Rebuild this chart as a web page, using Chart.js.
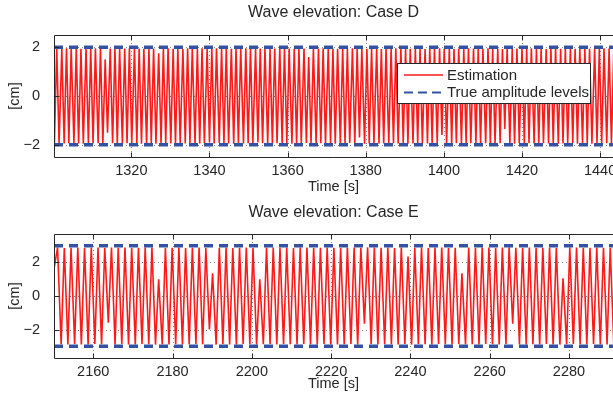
<!DOCTYPE html>
<html>
<head>
<meta charset="utf-8">
<script src="https://cdn.jsdelivr.net/npm/chart.js@4.4.1/dist/chart.umd.min.js"></script>
<style>
  html, body { margin: 0; padding: 0; background: #fff; overflow: hidden; }
  canvas { display: block; }
</style>
</head>
<body>
<canvas id="caseD" width="613" height="200"></canvas>
<canvas id="caseE" width="613" height="199"></canvas>
<script>
// ---- Case D: turning points of the estimated elevation (time [s], elevation [cm])
const timeD = [
  1300.3,1300.9,1301.5,1302.2,1302.8, 1303.4,1304.0,1304.6,1305.3,1305.9,
  1306.5,1307.1,1307.7,1308.4,1309.0, 1309.6,1310.2,1310.8,1311.5,1312.1,
  1312.7,1313.3,1313.9,1314.6,1315.2, 1315.8,1316.4,1317.0,1317.7,1318.3,
  1318.9,1319.5,1320.1,1320.8,1321.4, 1322.0,1322.6,1323.2,1323.9,1324.5,
  1325.1,1325.7,1326.3,1327.0,1327.6, 1328.2,1328.8,1329.4,1330.1,1330.7,
  1331.3,1331.9,1332.5,1333.2,1333.8, 1334.4,1335.0,1335.6,1336.3,1336.9,
  1337.5,1338.1,1338.7,1339.4,1340.0, 1340.6,1341.2,1341.8,1342.5,1343.1,
  1343.7,1344.3,1344.9,1345.6,1346.2, 1346.8,1347.4,1348.0,1348.7,1349.3,
  1349.9,1350.5,1351.1,1351.8,1352.4, 1353.0,1353.6,1354.2,1354.9,1355.5,
  1356.1,1356.7,1357.3,1358.0,1358.6, 1359.2,1359.8,1360.4,1361.1,1361.7,
  1362.3,1362.9,1363.5,1364.2,1364.8, 1365.4,1366.0,1366.6,1367.3,1367.9,
  1368.5,1369.1,1369.7,1370.4,1371.0, 1371.6,1372.2,1372.8,1373.5,1374.1,
  1374.7,1375.3,1375.9,1376.6,1377.2, 1377.8,1378.4,1379.0,1379.7,1380.3,
  1380.9,1381.5,1382.1,1382.8,1383.4, 1384.0,1384.6,1385.2,1385.9,1386.5,
  1387.1,1387.7,1388.3,1389.0,1389.6, 1390.2,1390.8,1391.4,1392.1,1392.7,
  1393.3,1393.9,1394.5,1395.2,1395.8, 1396.4,1397.0,1397.6,1398.3,1398.9,
  1399.5,1400.1,1400.7,1401.4,1402.0, 1402.6,1403.2,1403.8,1404.5,1405.1,
  1405.7,1406.3,1406.9,1407.6,1408.2, 1408.8,1409.4,1410.0,1410.7,1411.3,
  1411.9,1412.5,1413.1,1413.8,1414.4, 1415.0,1415.6,1416.2,1416.9,1417.5,
  1418.1,1418.7,1419.3,1420.0,1420.6, 1421.2,1421.8,1422.4,1423.1,1423.7,
  1424.3,1424.9,1425.5,1426.2,1426.8, 1427.4,1428.0,1428.6,1429.3,1429.9,
  1430.5,1431.1,1431.7,1432.4,1433.0, 1433.6,1434.2,1434.8,1435.5,1436.1,
  1436.7,1437.3,1437.9,1438.6,1439.2, 1439.8,1440.4,1441.0,1441.7,1442.3,
  1442.9,1443.5,1444.1
];
const etaD = [
  -1.94,1.95,-1.96,1.93,-1.95,1.96,-1.94,1.95,-1.93,1.96,
  -1.95,1.94,-1.96,1.95,-1.94,1.93,-1.95,1.96,-1.94,1.95,
  -1.96,1.5,-1.5,1.95,-1.94,1.96,-1.95,1.93,-1.96,1.95,
  -1.94,1.96,-1.95,1.94,-1.93,1.95,-1.96,1.94,-1.95,1.96,
  -1.94,1.95,-1.96,1.75,-1.95,1.94,-1.93,1.96,-1.95,1.94,
  -1.96,1.95,-1.94,1.93,-1.95,1.96,-1.94,1.95,-1.96,1.94,
  -1.95,1.96,-1.94,1.95,-1.9,1.94,-1.95,1.96,-1.93,1.95,
  -1.94,1.96,-1.95,1.94,-1.96,1.95,-1.93,1.94,-1.95,1.96,
  -1.94,1.95,-1.96,1.93,-1.9,1.95,-1.94,1.96,-1.95,1.94,
  -1.96,1.95,-1.94,1.96,-1.95,1.93,-1.94,1.95,-1.96,1.94,
  -1.95,1.96,-1.94,1.95,-1.93,1.6,-1.95,1.94,-1.96,1.95,
  -1.94,1.96,-1.95,1.93,-1.94,1.95,-1.96,1.94,-1.95,1.96,
  -1.94,1.95,-1.93,1.96,-1.95,1.94,-1.7,1.95,-1.96,1.94,
  -1.95,1.96,-1.94,1.95,-1.96,1.93,-1.95,1.94,-1.96,1.95,
  -1.94,1.96,-1.95,1.94,-1.93,1.95,-1.96,1.94,-1.95,1.96,
  -1.94,1.95,-1.96,1.93,-1.95,1.94,-1.96,1.95,-1.94,1.96,
  -1.6,1.95,-1.94,1.96,-1.95,1.93,-1.94,1.95,-1.96,1.94,
  -1.95,1.96,-1.94,1.95,-1.93,1.94,-1.96,1.95,-1.94,1.96,
  -1.95,1.94,-1.96,1.95,-1.94,1.93,-1.35,1.96,-1.95,1.94,
  -1.96,1.95,-1.94,1.96,-1.93,1.95,-1.94,1.96,-1.95,1.94,
  -1.96,1.95,-1.94,1.93,-1.95,1.96,-1.94,1.95,-1.96,1.94,
  -1.95,1.96,-1.94,1.95,-1.93,1.94,-1.96,1.95,-1.94,1.96,
  -1.95,1.94,-1.96,1.95,-1.94,1.93,-1.95,1.96,-1.94,1.95,
  -1.96,1.94,-1.95
];
const ampD = 2;
const xTicksD = [1320, 1340, 1360, 1380, 1400, 1420, 1440];
const yTicksD = [-2, 0, 2];

// ---- Case E
const timeE = [
  2150.2,2151.0,2151.9,2152.7,2153.6,2154.4,2155.3,2156.1,2157.0,2157.8,
  2158.7,2159.5,2160.4,2161.2,2162.1,2162.9,2163.8,2164.6,2165.5,2166.3,
  2167.2,2168.0,2168.9,2169.7,2170.6,2171.4,2172.3,2173.1,2174.0,2174.8,
  2175.7,2176.5,2177.4,2178.2,2179.1,2179.9,2180.8,2181.6,2182.5,2183.3,
  2184.2,2185.0,2185.9,2186.7,2187.6,2188.4,2189.3,2190.1,2191.0,2191.8,
  2192.7,2193.5,2194.4,2195.2,2196.1,2196.9,2197.8,2198.6,2199.5,2200.3,
  2201.2,2202.0,2202.9,2203.7,2204.6,2205.4,2206.3,2207.1,2208.0,2208.8,
  2209.7,2210.5,2211.4,2212.2,2213.1,2213.9,2214.8,2215.6,2216.5,2217.3,
  2218.2,2219.0,2219.9,2220.7,2221.6,2222.4,2223.3,2224.1,2225.0,2225.8,
  2226.7,2227.5,2228.4,2229.2,2230.1,2230.9,2231.8,2232.6,2233.5,2234.3,
  2235.2,2236.0,2236.9,2237.7,2238.6,2239.4,2240.3,2241.1,2242.0,2242.8,
  2243.7,2244.5,2245.4,2246.2,2247.1,2247.9,2248.8,2249.6,2250.5,2251.3,
  2252.2,2253.0,2253.9,2254.7,2255.6,2256.4,2257.3,2258.1,2259.0,2259.8,
  2260.7,2261.5,2262.4,2263.2,2264.1,2264.9,2265.8,2266.6,2267.5,2268.3,
  2269.2,2270.0,2270.9,2271.7,2272.6,2273.4,2274.3,2275.1,2276.0,2276.8,
  2277.7,2278.5,2279.4,2280.2,2281.1,2281.9,2282.8,2283.6,2284.5,2285.3,
  2286.2,2287.0,2287.9,2288.7,2289.6,2290.4,2291.3,2292.1
];
const etaE = [
  1.75,2.9,-2.88,2.86,-2.9,2.88,-2.87,2.9,-2.89,2.87,
  -2.9,2.88,-2.86,2.9,-2.88,2.87,-1.6,2.89,-2.9,2.88,
  -2.87,2.9,-2.89,2.86,-2.9,2.88,-2.87,2.9,-2.88,2.89,
  -2.9,1.0,-2.88,2.87,-2.9,2.88,-2.86,2.9,-2.89,2.87,
  -2.9,2.88,-2.87,2.9,-2.88,2.86,-2.0,1.35,-2.9,2.88,
  -2.87,2.9,-2.89,2.87,-2.9,2.88,-2.86,2.9,-2.88,2.87,
  -2.9,1.0,-2.88,2.9,-2.87,2.89,-2.9,2.88,-2.86,2.9,
  -2.88,2.87,-2.9,2.89,-2.87,2.9,-2.88,2.86,-2.9,2.88,
  -2.87,2.9,-2.89,2.88,-2.9,2.87,-2.88,2.9,-2.86,2.89,
  -2.9,2.88,-1.65,2.9,-2.87,2.89,-2.9,2.88,-2.86,2.9,
  -2.88,2.87,-2.9,2.89,-2.87,2.35,-2.9,2.88,-2.86,2.9,
  -2.88,2.87,-2.9,2.89,-2.87,2.9,-2.88,2.86,-2.9,2.88,
  -2.87,1.35,-2.89,2.9,-2.88,2.87,-2.9,2.89,-2.86,2.9,
  -2.88,2.87,-2.9,2.89,-2.87,2.9,-1.65,2.88,-2.9,2.87,
  -2.89,2.9,-2.88,2.86,-2.9,2.88,-2.87,2.9,-2.89,2.87,
  -2.9,1.05,-2.88,2.89,-2.87,2.9,-2.88,2.86,-2.9,2.88,
  -2.87,2.9,-2.89,2.88,-2.9,2.87,-2.88,2.9
];
const ampE = 3;
const xTicksE = [2160, 2180, 2200, 2220, 2240, 2260, 2280];
const yTicksE = [-2, 0, 2];

const RED = '#ff1a1a';
const BLUE = '#3452a4';
const INK = '#262626';
const FONT = "'Liberation Sans', Arial, Helvetica, sans-serif";
const FONT_SIZE = 14.5;

Chart.defaults.font.family = FONT;
Chart.defaults.font.size = FONT_SIZE;
Chart.defaults.color = INK;

const toPoints = (xs, ys) => xs.map((x, i) => ({ x: x, y: ys[i] }));
const tickText = v => (v < 0 ? '\u2212' + Math.abs(v) : String(v));

// matlab-like axes: dotted grid, box, inward ticks, title and boxed legend
const matlabAxes = {
  id: 'matlabAxes',
  beforeDatasetsDraw(chart) {
    const { ctx, chartArea: a, scales: { x, y } } = chart;
    ctx.save();
    ctx.strokeStyle = 'rgba(38,38,38,0.55)';
    ctx.lineWidth = 1;
    ctx.setLineDash([1, 3]);
    ctx.beginPath();
    x.ticks.forEach(t => {
      const px = Math.round(x.getPixelForValue(t.value)) + 0.5;
      ctx.moveTo(px, a.top); ctx.lineTo(px, a.bottom);
    });
    y.ticks.forEach(t => {
      const py = Math.round(y.getPixelForValue(t.value)) + 0.5;
      ctx.moveTo(a.left, py); ctx.lineTo(a.right, py);
    });
    ctx.stroke();
    ctx.restore();
  },
  afterDatasetsDraw(chart, args, opts) {
    const { ctx, chartArea: a, scales: { x, y } } = chart;
    const L = a.left + 0.5, T = a.top + 0.5, B = a.bottom + 0.5;
    ctx.save();
    ctx.strokeStyle = INK;
    ctx.lineWidth = 1;
    ctx.beginPath();
    ctx.moveTo(a.right, T); ctx.lineTo(L, T); ctx.lineTo(L, B); ctx.lineTo(a.right, B);
    x.ticks.forEach(t => {
      const px = Math.round(x.getPixelForValue(t.value)) + 0.5;
      ctx.moveTo(px, B); ctx.lineTo(px, B - 5);
      ctx.moveTo(px, T); ctx.lineTo(px, T + 5);
    });
    y.ticks.forEach(t => {
      const py = Math.round(y.getPixelForValue(t.value)) + 0.5;
      ctx.moveTo(L, py); ctx.lineTo(L + 5, py);
    });
    ctx.stroke();

    // title
    ctx.fillStyle = INK;
    ctx.font = '16px ' + FONT;
    ctx.textAlign = 'center';
    ctx.textBaseline = 'middle';
    ctx.fillText(opts.title, (a.left + a.right) / 2, opts.titleY);

    // legend
    if (opts.legend) {
      const lg = opts.legend;
      ctx.font = '15px ' + FONT;
      ctx.fillStyle = '#fff';
      ctx.fillRect(lg.x, lg.y, lg.w, lg.h);
      ctx.strokeStyle = INK;
      ctx.strokeRect(lg.x + 0.5, lg.y + 0.5, lg.w, lg.h);
      const items = chart.data.datasets.filter(d => d.label);
      items.forEach((d, i) => {
        const yy = lg.y + 12 + i * 17.5;
        ctx.strokeStyle = d.borderColor;
        ctx.lineWidth = d.borderDash ? 2 : 1.3;
        ctx.setLineDash(d.borderDash ? [9, 5] : []);
        ctx.beginPath();
        ctx.moveTo(lg.x + 7, yy); ctx.lineTo(lg.x + 46, yy);
        ctx.stroke();
        ctx.setLineDash([]);
        ctx.fillStyle = INK;
        ctx.textAlign = 'left';
        ctx.fillText(d.label, lg.x + 50, yy + 0.5);
      });
    }
    ctx.restore();
  }
};

function waveChart(id, o) {
  const level = v => [{ x: o.xMin, y: v }, { x: o.xMax, y: v }];
  return new Chart(document.getElementById(id), {
    type: 'line',
    data: {
      datasets: [
        { label: 'Estimation', data: toPoints(o.time, o.eta), borderColor: RED, borderWidth: 1.6, order: 2 },
        { label: 'True amplitude levels', data: level(o.amp), borderColor: BLUE, borderWidth: 3.5, borderDash: [9, 6], order: 1 },
        { label: '', data: level(-o.amp), borderColor: BLUE, borderWidth: 3.5, borderDash: [9, 6], order: 1 }
      ]
    },
    options: {
      responsive: false,
      animation: false,
      events: [],
      layout: { padding: { top: o.top, left: 0, right: 0, bottom: 0 } },
      elements: { point: { radius: 0 }, line: { tension: 0, borderCapStyle: 'butt', fill: false } },
      datasets: { line: { clip: 0 } },
      plugins: {
        legend: { display: false },
        tooltip: { enabled: false },
        matlabAxes: { title: o.title, titleY: 13, legend: o.legend }
      },
      scales: {
        x: {
          type: 'linear', min: o.xMin, max: o.xMax,
          afterBuildTicks: s => { s.ticks = o.xTicks.map(v => ({ value: v })); },
          afterFit: s => { s.height = o.xAxisHeight; s.paddingLeft = 0; s.paddingRight = 0; },
          grid: { display: false }, border: { display: false },
          ticks: { autoSkip: false, maxRotation: 0, padding: -2.5, callback: tickText },
          title: { display: true, text: 'Time [s]', padding: { top: 0, bottom: o.xTitlePad } }
        },
        y: {
          type: 'linear', min: -o.yLim, max: o.yLim,
          afterBuildTicks: s => { s.ticks = o.yTicks.map(v => ({ value: v })); },
          afterFit: s => { s.width = 54; s.paddingTop = 0; s.paddingBottom = 0; },
          grid: { display: false }, border: { display: false },
          ticks: { padding: 6, callback: tickText },
          title: { display: true, text: '[cm]', padding: { top: 6, bottom: 0 } }
        }
      }
    },
    plugins: [matlabAxes]
  });
}

waveChart('caseD', {
  title: 'Wave elevation: Case D',
  time: timeD, eta: etaD, amp: ampD, xTicks: xTicksD, yTicks: yTicksD,
  xMin: 1300.2, xMax: 1443.3, yLim: 2.5,
  top: 35, xAxisHeight: 43, xTitlePad: 4,
  legend: { x: 397, y: 63, w: 193, h: 40 }
});

waveChart('caseE', {
  title: 'Wave elevation: Case E',
  time: timeE, eta: etaE, amp: ampE, xTicks: xTicksE, yTicks: yTicksE,
  xMin: 2150.1, xMax: 2291.1, yLim: 3.7,
  top: 34, xAxisHeight: 41, xTitlePad: 6,
  legend: null
});
</script>
</body>
</html>
